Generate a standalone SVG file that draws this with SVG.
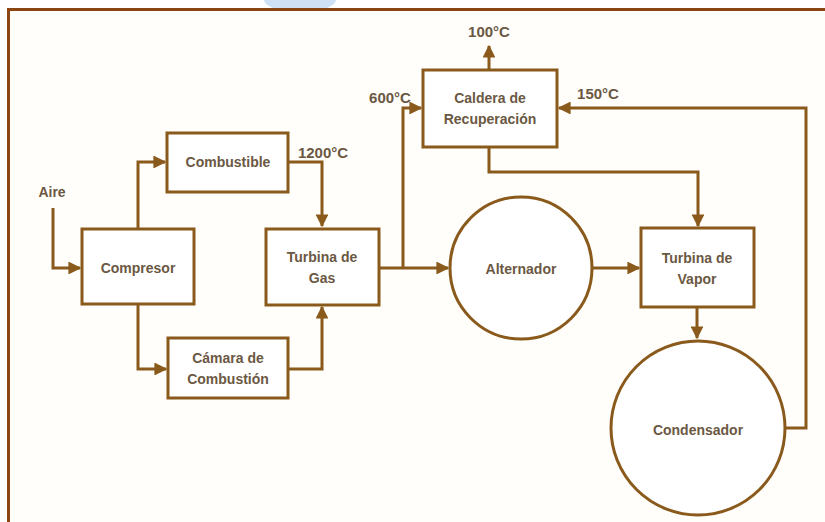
<svg xmlns="http://www.w3.org/2000/svg" width="825" height="522" viewBox="0 0 825 522">
<style>
.box{fill:#ffffff;stroke:#8a5a1c;stroke-width:3}
.ln{fill:none;stroke:#8a5a1c;stroke-width:3}
.t{font-family:"Liberation Sans",Arial,sans-serif;font-weight:bold;font-size:14px;fill:#6b5843;text-anchor:middle;dominant-baseline:central}
.lb{font-size:15px}
</style>
<defs>
<marker id="ar" viewBox="0 0 10 10" refX="9" refY="5" markerWidth="4.3" markerHeight="4.3" orient="auto" markerUnits="strokeWidth">
<path d="M0,0 L10,5 L0,10 Z" fill="#8a5a1c"/>
</marker>
</defs>
<rect x="0" y="0" width="825" height="522" fill="#ffffff"/>
<ellipse cx="300" cy="0" rx="36" ry="12" fill="#cfe2f5"/>
<rect x="8.5" y="9.5" width="830" height="520" fill="#fffefa" stroke="#8b4513" stroke-width="3"/>
<g id="connectors">
<path class="ln" d="M53,208 V268 H80" marker-end="url(#ar)"/>
<path class="ln" d="M138,228 V162 H165" marker-end="url(#ar)"/>
<path class="ln" d="M138,304 V369 H166" marker-end="url(#ar)"/>
<path class="ln" d="M288,162 H322 V226" marker-end="url(#ar)"/>
<path class="ln" d="M288,369 H322 V307" marker-end="url(#ar)"/>
<path class="ln" d="M379,268 H448" marker-end="url(#ar)"/>
<path class="ln" d="M403,268 V108 H421" marker-end="url(#ar)"/>
<path class="ln" d="M489,70 V46" marker-end="url(#ar)"/>
<path class="ln" d="M489,147 V172 H698 V226" marker-end="url(#ar)"/>
<path class="ln" d="M592,268 H639" marker-end="url(#ar)"/>
<path class="ln" d="M697,307 V338" marker-end="url(#ar)"/>
<path class="ln" d="M785,428 H806 V108 H559" marker-end="url(#ar)"/>
</g>
<g id="labels">
<text class="t" x="52" y="192">Aire</text>
<text class="t lb" x="323" y="152">1200°C</text>
<text class="t lb" x="390" y="97">600°C</text>
<text class="t lb" x="489" y="31">100°C</text>
<text class="t lb" x="598" y="93">150°C</text>
</g>
<g id="compresor"><rect class="box" x="82" y="229" width="112" height="75"/><text class="t" x="138" y="268">Compresor</text></g>
<g id="combustible"><rect class="box" x="167" y="133" width="121" height="59"/><text class="t" x="228" y="162">Combustible</text></g>
<g id="camara"><rect class="box" x="168" y="338" width="120" height="60"/><text class="t" x="228" y="358">Cámara de</text><text class="t" x="228" y="379">Combustión</text></g>
<g id="turbina-gas"><rect class="box" x="266" y="229" width="113" height="76"/><text class="t" x="322" y="257">Turbina de</text><text class="t" x="322" y="278">Gas</text></g>
<g id="caldera"><rect class="box" x="423" y="70" width="134" height="77"/><text class="t" x="490" y="98">Caldera de</text><text class="t" x="490" y="119">Recuperación</text></g>
<g id="alternador"><circle class="box" cx="521" cy="268" r="71"/><text class="t" x="521" y="269">Alternador</text></g>
<g id="turbina-vapor"><rect class="box" x="641" y="228" width="113" height="79"/><text class="t" x="697" y="258">Turbina de</text><text class="t" x="697" y="279">Vapor</text></g>
<g id="condensador"><circle class="box" cx="698" cy="428" r="87"/><text class="t" x="698" y="430">Condensador</text></g>
</svg>
